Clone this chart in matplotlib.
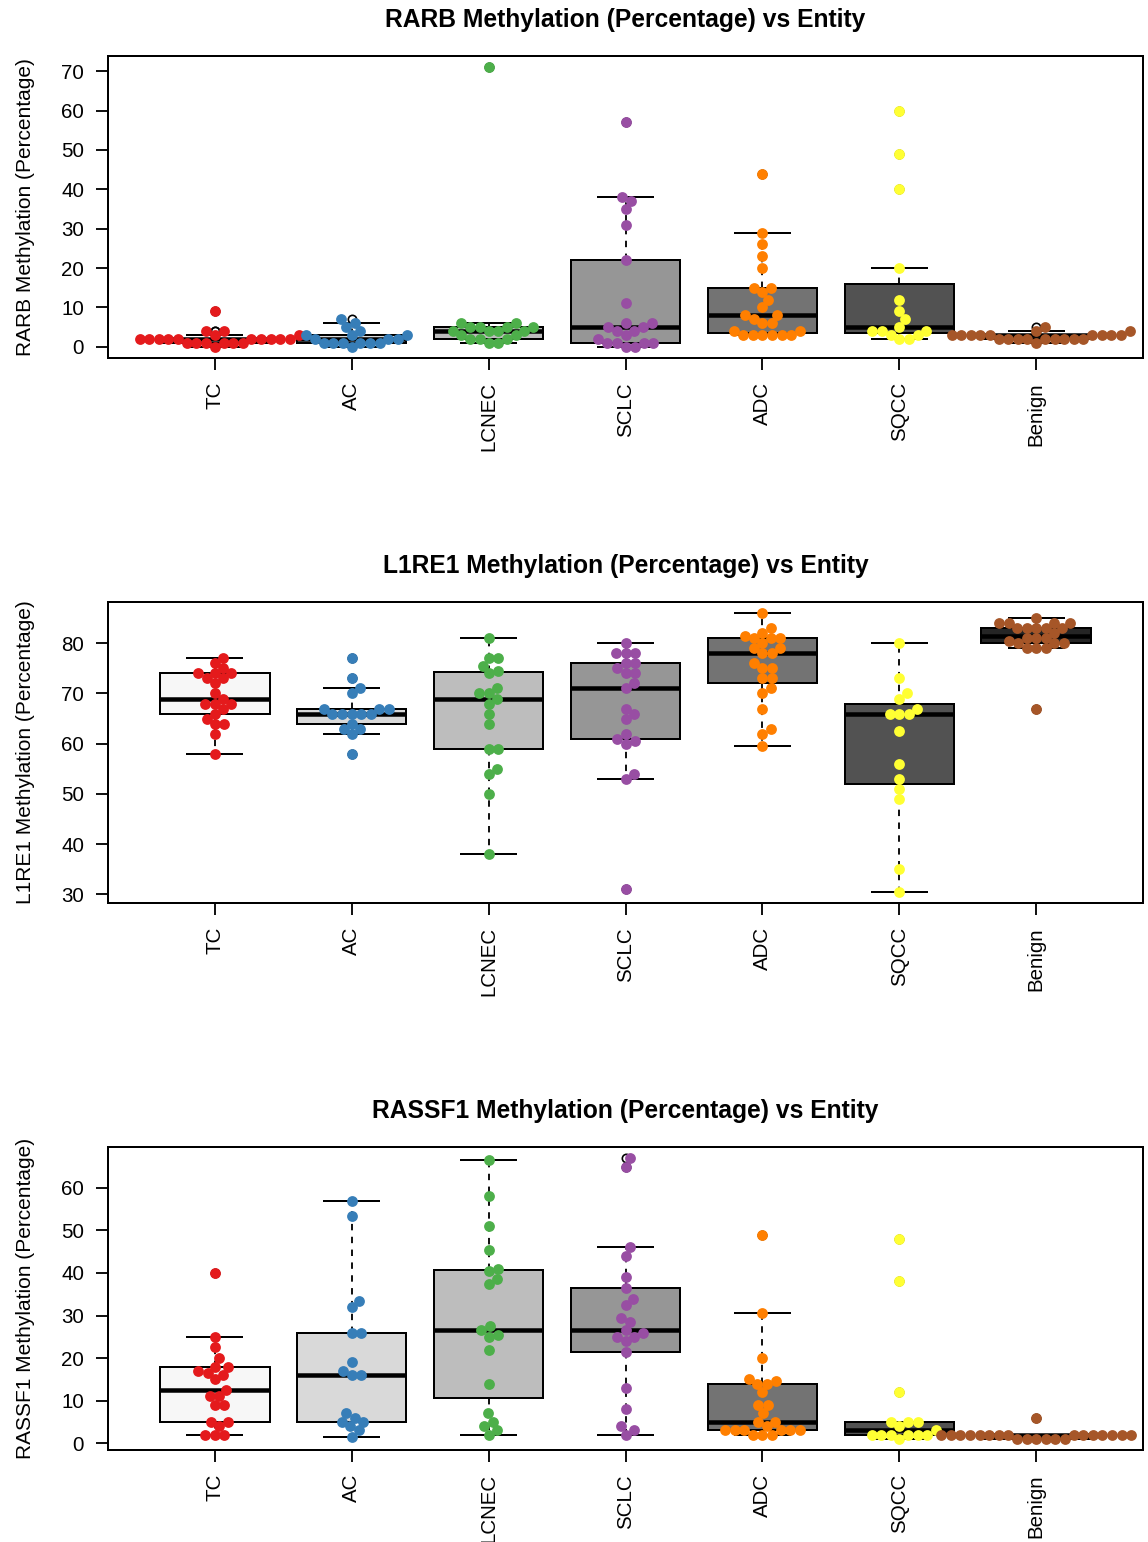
import numpy as np
import matplotlib.pyplot as plt

plt.rcParams['font.family'] = ['Liberation Sans', 'DejaVu Sans']

entities = ['TC', 'AC', 'LCNEC', 'SCLC', 'ADC', 'SQCC', 'Benign']
box_colors = ['#F7F7F7', '#D9D9D9', '#BDBDBD', '#969696', '#737373', '#525252', '#252525']
point_colors = ['#E41A1C', '#377EB8', '#4DAF4A', '#984EA3', '#FF7F00', '#FFFF33', '#A65628']

# RARB methylation (%) per entity, order as in `entities`
rarb = [
    [9, 4, 4, 3, 3] + [2] * 10 + [1] * 6 + [0],
    [7, 6, 5, 4, 3, 3, 3, 2, 2, 2] + [1] * 6 + [0],
    [71, 6, 6, 5, 5, 5, 5, 4, 4, 4, 4, 3, 3, 2, 2, 2, 1, 1],
    [57, 38, 37, 35, 31, 22, 11, 6, 6, 5, 5, 4, 4, 3, 2, 1, 1, 1, 1, 0, 0],
    [44, 29, 26, 23, 20, 15, 15, 14, 12, 10, 8, 8, 7, 6, 6, 4, 4, 3, 3, 3, 3, 3, 3],
    [60, 49, 40, 20, 12, 9, 7, 5, 4, 4, 4, 3, 3, 2, 2],
    [1] + [2] * 9 + [3] * 9 + [4, 4, 5],
]

# L1RE1 methylation (%)
l1re1 = [
    [77, 76, 75, 74, 74, 74, 73, 73, 72, 70, 69, 68, 68, 68, 67, 66, 65, 64, 64, 62, 58],
    [77, 73, 71, 70, 67, 67, 67, 66, 66, 66, 66, 66, 64, 63, 63, 62, 58],
    [81, 77, 77, 75.5, 74.5, 74, 71, 70, 70, 69, 68, 66, 64, 59, 59, 55, 54, 50, 38],
    [80, 78, 78, 78, 76, 76, 75, 74, 74, 72, 71, 67, 66, 65, 62, 61, 60.5, 60, 54, 53, 31],
    [86, 83, 82, 81.5, 81, 81, 81, 80, 79, 79, 78, 78, 76, 75, 75, 73, 73, 71, 70, 67, 63, 62, 59.5],
    [80, 73, 70, 69, 67, 66, 66, 66, 62.5, 56, 53, 51, 49, 35, 30.5],
    [85, 84, 84, 84, 84, 83, 83, 83, 83, 83, 82, 81, 81, 81, 80.5, 80, 80, 80, 79, 79, 79, 67],
]

# RASSF1 methylation (%)
rassf1 = [
    [40, 25, 22.5, 20, 18, 18, 17, 16.5, 16, 15, 12.5, 11, 11, 9, 9, 5, 5, 4, 2, 2, 2],
    [57, 53.5, 33.5, 32, 26, 26, 19, 17, 16, 16, 7, 6, 5, 5, 4, 3, 1.5],
    [66.5, 58, 51, 45.5, 41, 40.5, 38.5, 37.5, 27.5, 26.5, 25.5, 25, 22, 14, 7, 5, 4, 3, 2],
    [67, 65, 46, 44, 39, 36.5, 34, 32.5, 29.5, 28.5, 26.5, 26, 25, 25, 24, 21.5, 13, 8, 4, 3, 2],
    [49, 30.5, 20, 15, 14.5, 14, 14, 12, 9, 9, 7, 5, 5, 4, 3, 3, 3, 3, 3, 3, 2, 2, 2],
    [48, 38, 12, 5, 5, 5, 4, 3, 2, 2, 2, 2, 2, 2, 1],
    [6] + [2] * 15 + [1] * 6,
]

genes = ['RARB', 'L1RE1', 'RASSF1']
gene_values = [rarb, l1re1, rassf1]
gene_yticks = [np.arange(0, 71, 10), np.arange(30, 81, 10), np.arange(0, 61, 10)]

W, H, DPI = 1148, 1542, 120
LEFT, RIGHT = 108, 1143
PANEL_TOP = [56, 602, 1147]
PANEL_BOTTOM = [358, 903, 1450]
SPACING = 9.6      # px between swarm points
POINT_SIZE = 42


def fivenum(x):
    # same hinges as R's boxplot.stats
    x = np.sort(np.asarray(x, dtype=float))
    n = len(x)
    n4 = np.floor((n + 3) / 2) / 2
    d = np.array([1, n4, (n + 1) / 2, n + 1 - n4, n]) - 1
    return 0.5 * (x[np.floor(d).astype(int)] + x[np.ceil(d).astype(int)])


def box_stats(x):
    x = np.asarray(x, dtype=float)
    _, q1, med, q3, _ = fivenum(x)
    iqr = q3 - q1
    ok = (x >= q1 - 1.5 * iqr) & (x <= q3 + 1.5 * iqr)
    return dict(med=med, q1=q1, q3=q3, whislo=x[ok].min(), whishi=x[ok].max(), fliers=x[~ok])


def swarm(v, size):
    # beeswarm "swarm" placement, ascending priority
    order = np.argsort(v, kind='stable')
    px, py = [], []
    out = np.zeros(len(v))
    for i in order:
        xi = v[i]
        y = 0.0
        if px:
            a, b = np.array(px), np.array(py)
            near = np.abs(xi - a) < size
            if near.any():
                a, b = a[near], b[near]
                o = np.argsort(np.abs(b), kind='stable')
                a, b = a[o], b[o]
                off = np.sqrt(size ** 2 - (xi - a) ** 2)
                cand = np.concatenate([[0.0], b + off, b - off])
                for k, c in enumerate(cand):
                    if np.any((xi - a) ** 2 + (c - b) ** 2 < 0.999 * size ** 2):
                        cand[k] = np.inf
                y = cand[np.argmin(np.abs(cand))]
        px.append(xi)
        py.append(y)
        out[i] = y
    return out


fig = plt.figure(figsize=(W / DPI, H / DPI), dpi=DPI)
fig.patch.set_facecolor('white')

xlim = (0.5 - 0.28, 7.5 + 0.28)
for gene, values, yticks, top, bottom in zip(genes, gene_values, gene_yticks, PANEL_TOP, PANEL_BOTTOM):
    ax = fig.add_axes([LEFT / W, 1 - bottom / H, (RIGHT - LEFT) / W, (bottom - top) / H])
    allv = np.concatenate([np.asarray(v, dtype=float) for v in values])
    pad = 0.04 * (allv.max() - allv.min())
    ylim = (allv.min() - pad, allv.max() + pad)
    ax.set_xlim(xlim)
    ax.set_ylim(ylim)

    stats = [box_stats(v) for v in values]
    pos = np.arange(1, len(entities) + 1)
    bp = ax.bxp(stats, positions=pos, widths=0.8, capwidths=0.4, patch_artist=True,
                showfliers=True, manage_ticks=False,
                boxprops=dict(linewidth=1.2, edgecolor='black'),
                medianprops=dict(linewidth=2.7, color='black', solid_capstyle='butt'),
                whiskerprops=dict(linewidth=1.1, color='black', linestyle=(0, (3.5, 3.5))),
                capprops=dict(linewidth=1.2, color='black'),
                flierprops=dict(marker='o', markerfacecolor='none', markeredgecolor='black',
                                markersize=5, markeredgewidth=1))
    for patch, col in zip(bp['boxes'], box_colors):
        patch.set_facecolor(col)

    ppu_x = (RIGHT - LEFT) / (xlim[1] - xlim[0])
    ppu_y = (bottom - top) / (ylim[1] - ylim[0])
    for i, v in enumerate(values):
        v = np.asarray(v, dtype=float)
        offs = swarm(v * ppu_y, SPACING) / ppu_x
        ax.scatter(pos[i] + offs, v, s=POINT_SIZE, color=point_colors[i], linewidths=0, zorder=5)

    ax.set_xticks(pos)
    ax.set_xticklabels(entities, rotation=90)
    ax.set_yticks(yticks)
    ax.tick_params(direction='out', length=7.2, width=1.1, labelsize=12.3, pad=7.2)
    for s in ax.spines.values():
        s.set_linewidth(1.2)

    ax.set_title(f'{gene} Methylation (Percentage) vs Entity', fontsize=14.8,
                 fontweight='bold', pad=17.2)
    fig.text(26 / W, 1 - (top + bottom) / 2 / H, f'{gene} Methylation (Percentage)',
             rotation=90, ha='center', va='center', fontsize=12.5)

fig.savefig('out.png', dpi=DPI, facecolor='white')
